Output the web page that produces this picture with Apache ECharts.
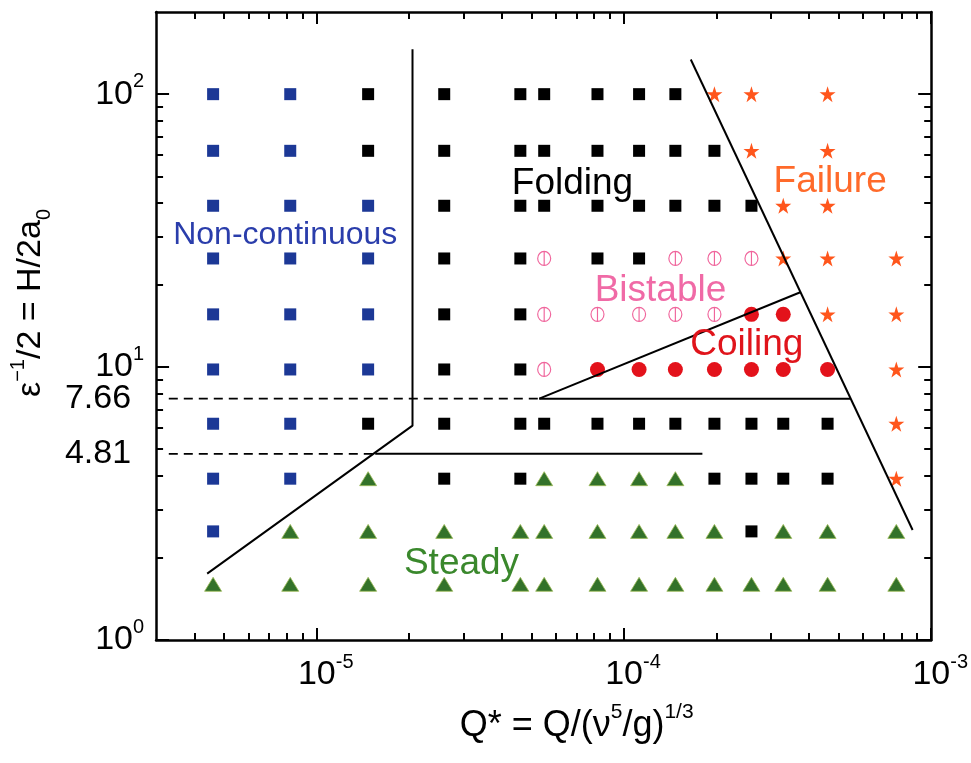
<!DOCTYPE html>
<html>
<head>
<meta charset="utf-8">
<script src="https://cdn.jsdelivr.net/npm/echarts@6/dist/echarts.min.js"></script>
<style>
html,body{margin:0;padding:0;background:#fff;}
#chart{width:971px;height:763px;}
</style>
</head>
<body>
<div id="chart"></div>
<script>
// Flow-rate columns (Q*) and height rows (H/2a0) of the experiments
const qValues = [4.6e-6, 8.2e-6, 1.47e-5, 2.6e-5, 4.6e-5, 5.5e-5, 8.2e-5, 1.12e-4, 1.47e-4, 1.97e-4, 2.6e-4, 3.3e-4, 4.6e-4, 7.7e-4];
const hValues = [100, 62, 39, 25, 15.6, 9.8, 6.2, 3.9, 2.5, 1.6];

// Observed regime per row (top to bottom), one letter per Q* column
// N non-continuous, F folding, B bistable, C coiling, X failure, S steady, . none
const regimeRows = [
  'NNFFFFFFFXX.X.',
  'NNFFFFFFFFX.X.',
  'NNNFFFFFFFFXX.',
  'NNNFFBFFBBBXXX',
  'NNNFFBBBBBCCXX',
  'NNNFFBCCCCCCCX',
  'NNFFFFFFFFFFFX',
  'NNSFFSSSSFFFFX',
  'NSSSSSSSSSFSSS',
  'SSSSSSSSSSSSSS'
];

// Axis ticks and labels
const xMajorTicks = [1e-5, 1e-4, 1e-3];
const xMinorTicks = [4e-6, 5e-6, 6e-6, 7e-6, 8e-6, 9e-6,
  2e-5, 3e-5, 4e-5, 5e-5, 6e-5, 7e-5, 8e-5, 9e-5,
  2e-4, 3e-4, 4e-4, 5e-4, 6e-4, 7e-4, 8e-4, 9e-4];
const yMajorTicks = [1, 10, 100];
const yMinorTicks = [2, 3, 4, 5, 6, 7, 8, 9, 20, 30, 40, 50, 60, 70, 80, 90];
const yLabelValues = [1, 4.81, 7.66, 10, 100];

// Critical heights marked on the axis
const hCritUpper = 7.66;
const hCritLower = 4.81;

// Regime boundaries, [Q*, H/2a0] vertices
const solidBoundaries = [
  [[2.05e-5, 146], [2.05e-5, 6.1], [4.4e-6, 1.75]],
  [[1.55e-5, hCritLower], [1.8e-4, hCritLower]],
  [[5.3e-5, hCritUpper], [3.75e-4, 18.8]],
  [[5.3e-5, hCritUpper], [5.45e-4, hCritUpper]],
  [[1.65e-4, 134], [8.7e-4, 2.53]]
];
const dashedBoundaries = [
  [[3.3e-6, hCritUpper], [5.3e-5, hCritUpper]],
  [[3.3e-6, hCritLower], [1.55e-5, hCritLower]]
];

// Region names and where they sit
const regionNames = ['Non-continuous', 'Folding', 'Failure', 'Bistable', 'Coiling', 'Steady'];
const regionQ = [7.9e-6, 6.8e-5, 4.69e-4, 1.315e-4, 2.51e-4, 2.96e-5];
const regionH = [30.4, 46.8, 47.6, 19.1, 12.05, 1.9];

const FONT = 'Liberation Sans, Arial, Helvetica, sans-serif';

const starPath = 'path://M50,0 L61.2,34.5 L97.6,34.5 L68.2,55.9 L79.4,90.5 L50,69.1 L20.6,90.5 L31.8,55.9 L2.4,34.5 L38.8,34.5 Z';
const ringPath = 'path://M10,0 A10,10 0 1 1 10,20 A10,10 0 1 1 10,0 Z M10,0 L10,20';

const regimeStyles = {
  N: { name: 'Non-continuous', symbol: 'rect', symbolSize: 12, itemStyle: { color: '#1c3896', opacity: 1 } },
  F: { name: 'Folding', symbol: 'rect', symbolSize: 12, itemStyle: { color: '#000000', opacity: 1 } },
  B: { name: 'Bistable', symbol: ringPath, symbolSize: [13, 14], itemStyle: { color: 'rgba(0,0,0,0)', borderColor: '#f0659c', borderWidth: 1.2, opacity: 1 } },
  C: { name: 'Coiling', symbol: 'circle', symbolSize: 15, itemStyle: { color: '#e3121b', opacity: 1 } },
  X: { name: 'Failure', symbol: starPath, symbolSize: 16, itemStyle: { color: '#ff561c', opacity: 1 } },
  S: { name: 'Steady', symbol: 'triangle', symbolSize: [17, 14], itemStyle: { color: '#33722a', borderColor: '#9cba58', borderWidth: 0.8, opacity: 1 } }
};

const regionColors = {
  'Non-continuous': '#2a3dab', 'Folding': '#000000', 'Failure': '#ff6a2a',
  'Bistable': '#f06aa6', 'Coiling': '#e0141b', 'Steady': '#3a882c'
};

// Group experiments by regime
const pointsByRegime = {};
Object.keys(regimeStyles).forEach(k => { pointsByRegime[k] = []; });
regimeRows.forEach((row, r) => {
  row.split('').forEach((code, c) => {
    if (pointsByRegime[code]) pointsByRegime[code].push([qValues[c], hValues[r]]);
  });
});

const supRich = {
  b: { fontSize: 34, fontFamily: FONT, color: '#000', lineHeight: 46 },
  s: { fontSize: 20, fontFamily: FONT, color: '#000', verticalAlign: 'top', lineHeight: 22 },
  n: { fontSize: 34, fontFamily: FONT, color: '#000', lineHeight: 46, padding: [0, 13, 0, 0] }
};

function powLabel(v) {
  const e = Math.round(Math.log10(v));
  if (Math.abs(Math.log10(v) - e) < 1e-9) return '{b|10}{s|' + e + '}';
  return '{n|' + v.toFixed(2) + '}';
}

const frameLine = { show: true, lineStyle: { color: '#000', width: 2.5 } };

function xAxisDef(position, ticks, len, withLabels) {
  return {
    type: 'log', min: 3e-6, max: 1e-3, position: position,
    axisLine: len > 10 ? frameLine : { show: false },
    axisTick: { show: true, inside: true, length: len, customValues: ticks, lineStyle: { color: '#000', width: 2 } },
    axisLabel: withLabels ? {
      show: true, customValues: xMajorTicks, formatter: powLabel, rich: supRich,
      margin: 12, padding: [0, 0, 0, 18]
    } : { show: false },
    splitLine: { show: false },
    minorTick: { show: false }
  };
}
function yAxisDef(position, ticks, len, withLabels) {
  return {
    type: 'log', min: 1, max: 200, position: position,
    axisLine: len > 10 ? frameLine : { show: false },
    axisTick: { show: true, inside: true, length: len, customValues: ticks, lineStyle: { color: '#000', width: 2 } },
    axisLabel: withLabels ? {
      show: true, customValues: yLabelValues, formatter: powLabel, rich: supRich, margin: 12
    } : { show: false },
    splitLine: { show: false },
    minorTick: { show: false }
  };
}

const xAxes = [
  xAxisDef('bottom', xMajorTicks, 12, true),
  xAxisDef('bottom', xMinorTicks, 7, false),
  xAxisDef('top', xMajorTicks, 12, false),
  xAxisDef('top', xMinorTicks, 7, false)
];
Object.assign(xAxes[0], {
  name: '{b|Q* = Q/(ν}{s|5}{b|/g)}{s|1/3}',
  nameLocation: 'middle', nameGap: 62,
  nameTextStyle: {
    padding: [0, 0, 0, 66],
    rich: {
      b: { fontSize: 36, fontFamily: FONT, color: '#000', lineHeight: 48 },
      s: { fontSize: 21, fontFamily: FONT, color: '#000', verticalAlign: 'top', lineHeight: 22 }
    }
  }
});

const yAxes = [
  yAxisDef('left', yMajorTicks, 13, true),
  yAxisDef('left', yMinorTicks, 7, false),
  yAxisDef('right', yMajorTicks, 13, false),
  yAxisDef('right', yMinorTicks, 7, false)
];
Object.assign(yAxes[0], {
  // leading spacer lifts the title above the middle of the axis
  name: '{p| }{b|ε}{s|−1}{b|/2 = H/2a}{u|0}',
  nameLocation: 'middle', nameGap: 86, nameRotate: 90,
  nameTextStyle: {
    rich: {
      p: { width: 46, fontSize: 34, lineHeight: 46 },
      b: { fontSize: 34, fontFamily: FONT, color: '#000', lineHeight: 46 },
      s: { fontSize: 20, fontFamily: FONT, color: '#000', verticalAlign: 'top', lineHeight: 20 },
      u: { fontSize: 20, fontFamily: FONT, color: '#000', verticalAlign: 'bottom', lineHeight: 20 }
    }
  }
});

const series = [];
Object.keys(regimeStyles).forEach(k => {
  const st = regimeStyles[k];
  series.push({
    type: 'scatter', name: st.name, xAxisIndex: 0, yAxisIndex: 0,
    symbol: st.symbol, symbolSize: st.symbolSize, itemStyle: st.itemStyle,
    data: pointsByRegime[k], z: 3, silent: true
  });
});
solidBoundaries.forEach(seg => {
  series.push({
    type: 'line', data: seg, xAxisIndex: 0, yAxisIndex: 0, symbol: 'none', z: 4, silent: true,
    lineStyle: { color: '#000', width: 2 }
  });
});
dashedBoundaries.forEach(seg => {
  series.push({
    type: 'line', data: seg, xAxisIndex: 0, yAxisIndex: 0, symbol: 'none', z: 4, silent: true,
    lineStyle: { color: '#000', width: 1.8, type: [9, 6] }
  });
});
series.push({
  type: 'scatter', xAxisIndex: 0, yAxisIndex: 0, symbolSize: 1, z: 5, silent: true,
  itemStyle: { color: 'rgba(0,0,0,0)', opacity: 1 },
  data: regionNames.map((n, i) => ({
    name: n, value: [regionQ[i], regionH[i]],
    label: {
      show: true, position: 'inside', formatter: '{b}', color: regionColors[n],
      fontFamily: FONT, fontSize: n === 'Non-continuous' ? 32 : 37
    }
  }))
});

const chart = echarts.init(document.getElementById('chart'), null, { renderer: 'canvas' });
chart.setOption({
  animation: false,
  backgroundColor: '#ffffff',
  grid: { left: 155, right: 35, top: 12, bottom: 123, containLabel: false },
  xAxis: xAxes,
  yAxis: yAxes,
  series: series
});
</script>
</body>
</html>
